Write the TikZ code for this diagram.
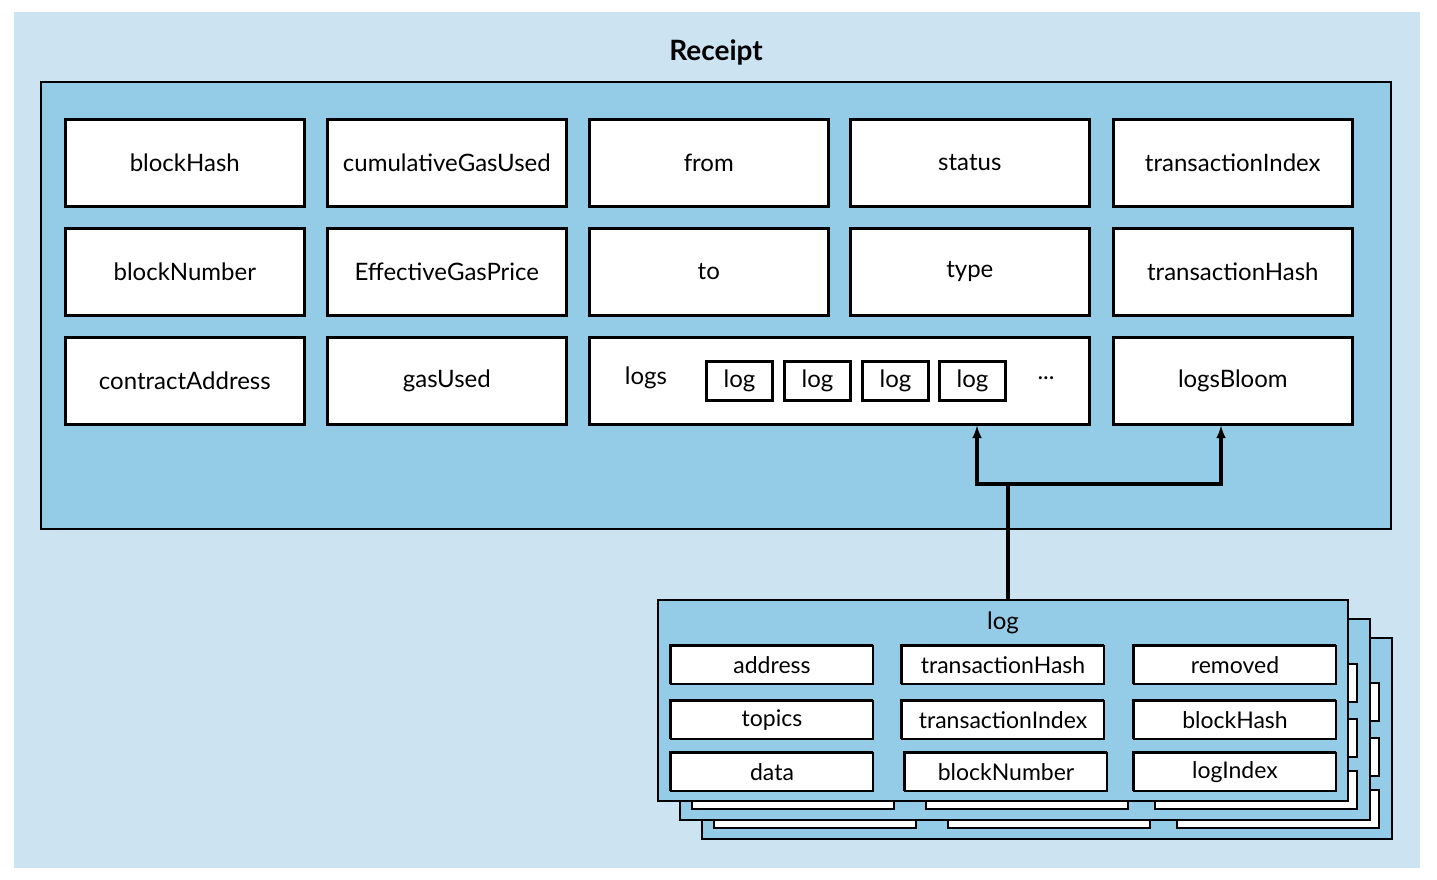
\documentclass[tikz,border=0pt]{standalone}
\usepackage{fontspec}
\setmainfont{Lato}
\definecolor{paleblue}{RGB}{204,227,242}
\definecolor{midblue}{RGB}{148,203,230}
\tikzset{
  field/.style={draw=black,line width=2.6pt,fill=white,inner sep=0pt,font=\fontsize{24}{28}\selectfont},
  small/.style={draw=black,line width=2pt,fill=white,inner sep=0pt,font=\fontsize{23}{26}\selectfont},
  card/.style={draw=black,line width=1.8pt,fill=midblue},
  link/.style={line width=3.2pt,-latex}
}
\begin{document}
\begin{tikzpicture}[x=1pt,y=-1pt]
  %Rahmen
  \useasboundingbox (0,0) rectangle (1437,880);
  \fill[paleblue] (14,12) rectangle (1420,868);
  \node[font=\fontsize{28}{32}\selectfont\bfseries] (title) at (716,52) {Receipt};
  \draw[card] (41,82) rectangle (1391,529);

  %Felder
  \foreach \name/\x/\y/\txt in {bh/64/118/blockHash, cg/326/118/cumulativeGasUsed, fr/588/118/from, st/849/118/status, ti/1112/118/transactionIndex,
      bn/64/227/blockNumber, eg/326/227/EffectiveGasPrice, to/588/227/to, ty/849/227/type, th/1112/227/transactionHash,
      ca/64/336/contractAddress, gu/326/336/gasUsed, lb/1112/336/logsBloom}
    \node[field,minimum width=239pt,minimum height=87pt,anchor=north west] (\name) at (\x,\y) {\txt};
  \node[field,minimum width=500pt,minimum height=87pt,anchor=north west] (logs) at (588,336) {};
  \node[font=\fontsize{24}{28}\selectfont] (logstxt) at (646,378) {logs};
  \foreach \i/\x in {1/705,2/783,3/861,4/938}
    \node[field,line width=3pt,minimum width=66pt,minimum height=39pt,anchor=north west] (l\i) at (\x,360) {log};
  \node[font=\fontsize{24}{28}\selectfont] (dots) at (1046,378) {...};

  %Log-Karten
  \foreach \dx/\dy in {44/38,22/19,0/0}{
    \draw[card] (658+\dx,600+\dy) rectangle (1348+\dx,801+\dy);
    \foreach \x/\y in {670/645,901/645,1133/645,670/700,901/700,1133/700,670/752,904/752,1133/752}
      \draw[line width=2pt,fill=white] (\x+\dx,\y+\dy) rectangle (\x+202+\dx,\y+38+\dy);
  }
  \node[font=\fontsize{24}{28}\selectfont] (logtitle) at (1003,623) {log};
  \foreach \name/\x/\y/\txt in {ad/670/645/address, lth/901/645/transactionHash, rm/1133/645/removed,
      tp/670/700/topics, lti/901/700/transactionIndex, lbh/1133/700/blockHash,
      da/670/752/data, lbn/904/752/blockNumber, li/1133/752/logIndex}
    \node[small,minimum width=202pt,minimum height=38pt,anchor=north west] (\name) at (\x,\y) {\txt};

  %Pfeile
  \coordinate (src) at (1008,600);
  \coordinate (fork) at (1008,484);
  \draw[line width=3.2pt] (src) -- (fork);
  \draw[link] (fork) -| (logs.south -| 977,0);
  \draw[link] (fork) -| (lb.south -| 1221,0);
\end{tikzpicture}
\end{document}
